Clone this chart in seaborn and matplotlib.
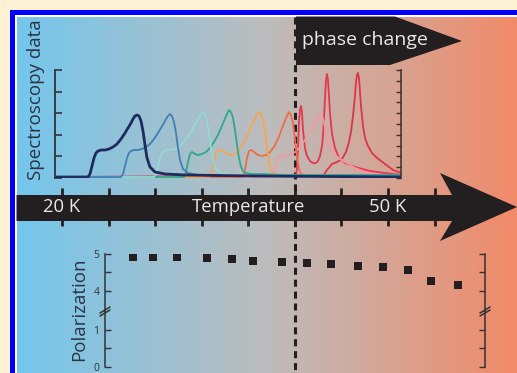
import numpy as np
import matplotlib
matplotlib.use("Agg")
import matplotlib.pyplot as plt
from matplotlib.colors import LinearSegmentedColormap
from matplotlib.patches import Polygon, Rectangle
import seaborn as sns

W, H = 517, 373

# --- spectroscopy traces (channel 0-346, intensity a.u. 0-108), low T -> high T
spec_colors = ["#1E2B5E", "#3F7FB7", "#94D8D4", "#2FA88C", "#F6A553",
               "#EE6D47", "#F39AA0", "#E8364F", "#DD3448"]
spec_widths = [2.0, 1.3, 1.3, 1.3, 1.3, 1.3, 1.3, 1.3, 1.3]

spec1_x = [0, 33, 35, 37, 39, 41, 43, 46, 50, 54, 58, 62, 66, 70, 73, 76, 78, 80, 82,
           84, 86, 88, 90, 92, 95, 100, 110, 130, 200, 346]
spec1_y = [1, 1, 4, 12, 20, 25, 27, 28, 28, 29, 31, 34, 39, 45, 50, 55, 59, 62, 63,
           62, 57, 47, 33, 20, 11, 6, 4, 3, 2, 1]
spec2_x = [0, 66, 68, 70, 72, 74, 76, 79, 83, 87, 91, 95, 99, 103, 106, 109, 111, 113,
           115, 117, 119, 121, 123, 125, 128, 133, 143, 163, 346]
spec2_y = [1, 1, 4, 12, 20, 25, 27, 28, 28, 29, 31, 34, 39, 45, 50, 55, 59, 62,
           64, 62, 56, 45, 30, 18, 9, 5, 3, 2, 2]
spec3_x = [0, 99, 101, 103, 105, 107, 109, 112, 116, 120, 124, 128, 132, 136, 139, 142,
           144, 146, 148, 150, 152, 154, 156, 158, 161, 166, 176, 196, 346]
spec3_y = [1, 1, 4, 12, 20, 25, 27, 28, 28, 29, 31, 35, 40, 46, 52, 57,
           61, 64, 65, 63, 57, 45, 30, 18, 9, 5, 3, 2, 2]
spec4_x = [0, 129, 131, 133, 135, 137, 140, 143, 147, 151, 155, 159, 163, 166, 169, 172,
           174, 176, 178, 180, 182, 184, 186, 188, 191, 196, 206, 230, 346]
spec4_y = [1, 1, 6, 16, 24, 26, 24, 23, 24, 26, 30, 36, 43, 50, 57, 64,
           68, 66, 60, 48, 33, 20, 11, 7, 5, 4, 4, 3, 3]
spec5_x = [0, 155, 157, 159, 161, 163, 166, 170, 174, 178, 182, 186, 190, 194, 197, 200,
           202, 204, 206, 208, 210, 212, 214, 216, 219, 224, 234, 260, 346]
spec5_y = [1, 1, 6, 16, 25, 28, 28, 26, 23, 23, 26, 31, 38, 46, 53, 59,
           63, 66, 64, 58, 46, 30, 16, 7, 4, 3, 3, 2, 2]
spec6_x = [0, 188, 190, 192, 194, 196, 199, 203, 207, 211, 215, 219, 223, 226, 229, 232,
           234, 236, 238, 240, 242, 244, 246, 250, 256, 270, 346]
spec6_y = [1, 1, 8, 20, 27, 28, 26, 23, 22, 23, 26, 31, 39, 47, 55, 62,
           66, 63, 55, 38, 20, 9, 4, 3, 2, 2, 2]
spec7_x = [0, 217, 219, 221, 223, 226, 230, 235, 240, 245, 250, 255, 259, 262, 265, 267,
           269, 271, 273, 276, 280, 285, 292, 300, 310, 322, 346]
spec7_y = [1, 1, 6, 15, 21, 23, 22, 23, 26, 31, 38, 47, 54, 59, 63, 62,
           56, 45, 34, 27, 23, 19, 15, 10, 6, 3, 2]
spec8_x = [0, 241, 242, 243, 244, 245, 246, 247, 248, 250, 252, 255, 258, 261, 263, 265,
           267, 268, 269, 270, 271, 272, 273, 274, 275, 277, 280, 284, 290, 300, 315,
           330, 346]
spec8_y = [1, 2, 10, 30, 55, 68, 72, 66, 48, 30, 22, 17, 15, 15, 17, 22,
           32, 42, 60, 80, 98, 104, 98, 82, 65, 44, 30, 20, 15, 11, 7,
           5, 3]
spec9_x = [0, 268, 272, 277, 282, 287, 291, 294, 296, 298, 300, 301, 302, 303, 304, 305,
           306, 308, 310, 313, 317, 322, 330, 338, 346]
spec9_y = [1, 2, 8, 14, 16, 19, 26, 36, 46, 62, 82, 96, 103, 105, 100, 86,
           72, 52, 40, 32, 25, 20, 14, 8, 5]

spec_x = [spec1_x, spec2_x, spec3_x, spec4_x, spec5_x, spec6_x, spec7_x, spec8_x, spec9_x]
spec_y = [spec1_y, spec2_y, spec3_y, spec4_y, spec5_y, spec6_y, spec7_y, spec8_y, spec9_y]

# --- polarization vs temperature (K)
temp_k = [26.5, 28.4, 30.6, 33.3, 35.6, 37.6, 40.2, 42.5, 44.8, 47.2, 49.5, 51.8, 54.0, 56.4]
polarization = [4.90, 4.90, 4.90, 4.87, 4.84, 4.81, 4.78, 4.75, 4.71, 4.66, 4.63, 4.56, 4.27, 4.15]

temp_ticks = [20, 24.29, 28.57, 32.86, 37.14, 41.43, 45.71, 50, 54.29]
temp_labels = {20: "20 K", 37.14: "Temperature", 50: "50 K"}
phase_change_k = 41.43

ink = "#231F20"
axis_c = "#333333"


def px_box(x0, y0, x1, y1):
    return [x0 / W, 1 - y1 / H, (x1 - x0) / W, (y1 - y0) / H]


def px_to_k(px):
    # temperature scale of the arrow: 20 K at px 62, 50 K at px 388
    return 20 + (px - 62) * 30 / 326


def hide_frame(a):
    a.set_frame_on(False)
    for s in a.spines.values():
        s.set_visible(False)
    a.set_axis_off()


sns.set_theme(style="white")
plt.rcParams["font.family"] = ["Open Sans", "DejaVu Sans"]

fig = plt.figure(figsize=(W / 100, H / 100), dpi=100)
fig.patch.set_facecolor("#FFF2D4")

# background, frame and arrows (pixel layout)
bg = fig.add_axes([0, 0, 1, 1])
bg.add_patch(Rectangle((10, 10), 5, 370, color="#0000FF", lw=0, zorder=0))
bg.add_patch(Rectangle((10, 10), 515, 5, color="#0000FF", lw=0, zorder=0))
bg.add_patch(Rectangle((15, 15), 2, 370, color="white", lw=0, zorder=0))
bg.add_patch(Rectangle((15, 15), 515, 2, color="white", lw=0, zorder=0))
fade = LinearSegmentedColormap.from_list("fade", ["#74C6EC", "#BCBCBC", "#F18A69"])
edges = np.linspace(16.5, W, 201)
bg.bar(edges[:-1], H, width=np.diff(edges) + 0.6, bottom=16.5, align="edge",
       color=fade(np.linspace(0, 1, 200)), lw=0, antialiased=False, zorder=1)
bg.add_patch(Polygon([(16.5, 195), (452, 195), (440, 173), (517, 207),
                      (440, 241), (452, 221), (16.5, 221)], closed=True,
                     color=ink, lw=0, zorder=3))
bg.add_patch(Polygon([(296, 16.5), (395, 16.5), (462, 41), (390, 65), (296, 65)],
                     closed=True, color=ink, lw=0, zorder=3))
bg.text(365, 40, "phase change", color="#E8E8E8", fontsize=14,
        ha="center", va="center", zorder=4)
bg.text(36, 100, "Spectroscopy data", color="#2A3442", fontsize=13.5,
        rotation=90, ha="center", va="center", zorder=4)
bg.text(79, 309, "Polarization", color="#2A3442", fontsize=13.5,
        rotation=90, ha="center", va="center", zorder=4)
for bx in [105, 485]:
    bg.plot([bx - 5, bx + 5], [313, 307], color=axis_c, lw=1.1, zorder=4)
    bg.plot([bx - 5, bx + 5], [316, 310], color=axis_c, lw=1.1, zorder=4)
bg.set_xlim(0, W)
bg.set_ylim(H, 0)
hide_frame(bg)

# temperature axis: ticks on the arrow and phase-change line
tax = fig.add_axes([0, 0, 1, 1])
tax.vlines(temp_ticks, 188, 226, color=ink, lw=2)
tax.vlines(phase_change_k, 16.5, H, color=ink, lw=2.2, linestyles=(0, (2.3, 1.6)))
for t, lab in temp_labels.items():
    tax.text(t, 207, lab, color="#E8E8E8", fontsize=13.3, ha="center", va="center")
tax.set_xlim(px_to_k(0), px_to_k(W))
tax.set_ylim(H, 0)
hide_frame(tax)

# spectroscopy panel
sax = fig.add_axes(px_box(55, 70, 401, 178))
sax.patch.set_alpha(0)
for xs, ys, c, lw in reversed(list(zip(spec_x, spec_y, spec_colors, spec_widths))):
    sns.lineplot(x=xs, y=ys, color=c, lw=lw, ax=sax, sort=False, estimator=None)
sax.set_xlim(0, 346)
sax.set_ylim(0, 108)
sax.set_xticks([])
sax.set_yticks(np.linspace(0, 108, 6))
sax.set_yticklabels([])
sax.tick_params(axis="y", left=True, direction="in", length=5, width=1.2, color=axis_c)
for s in ["top", "bottom", "right"]:
    sax.spines[s].set_visible(False)
sax.spines["left"].set_color(axis_c)
sax.spines["left"].set_linewidth(1.3)
rax = sax.twinx()
rax.set_ylim(0, 108)
rax.set_yticks(np.linspace(0, 108, 11))
rax.set_yticklabels([])
rax.tick_params(axis="y", right=True, direction="in", length=3.5, width=1, color=axis_c)
for s in ["top", "bottom", "left"]:
    rax.spines[s].set_visible(False)
rax.spines["right"].set_color(axis_c)
rax.spines["right"].set_linewidth(1.1)

# polarization panel (broken y axis)
pol_hi = fig.add_axes(px_box(105, 253.5, 485, 311))
pol_lo = fig.add_axes(px_box(105, 311, 485, 366.7))
sns.scatterplot(x=temp_k, y=polarization, marker="s", s=30, color=ink,
                linewidth=0, ax=pol_hi, zorder=5)
pol_hi.set_ylim(5 - 57.5 / 37.2, 5.0)
pol_lo.set_ylim(0, 55.7 / 37.2)
pol_hi.set_yticks([4, 4.5, 5])
pol_hi.set_yticklabels(["4", "", "5"])
pol_lo.set_yticks([0, 0.5, 1])
pol_lo.set_yticklabels(["0", "", "1"])
for a in [pol_hi, pol_lo]:
    a.patch.set_alpha(0)
    a.set_xlim(px_to_k(105), px_to_k(485))
    a.set_xticks([])
    a.tick_params(axis="y", left=True, right=True, direction="in", length=4,
                  width=1, color=axis_c, labelsize=7.5, labelcolor=axis_c, pad=4)
    for s in ["top", "bottom"]:
        a.spines[s].set_visible(False)
    for s in ["left", "right"]:
        a.spines[s].set_color(axis_c)
        a.spines[s].set_linewidth(1.1)

fig.savefig("out.png", dpi=100, facecolor=fig.get_facecolor())
